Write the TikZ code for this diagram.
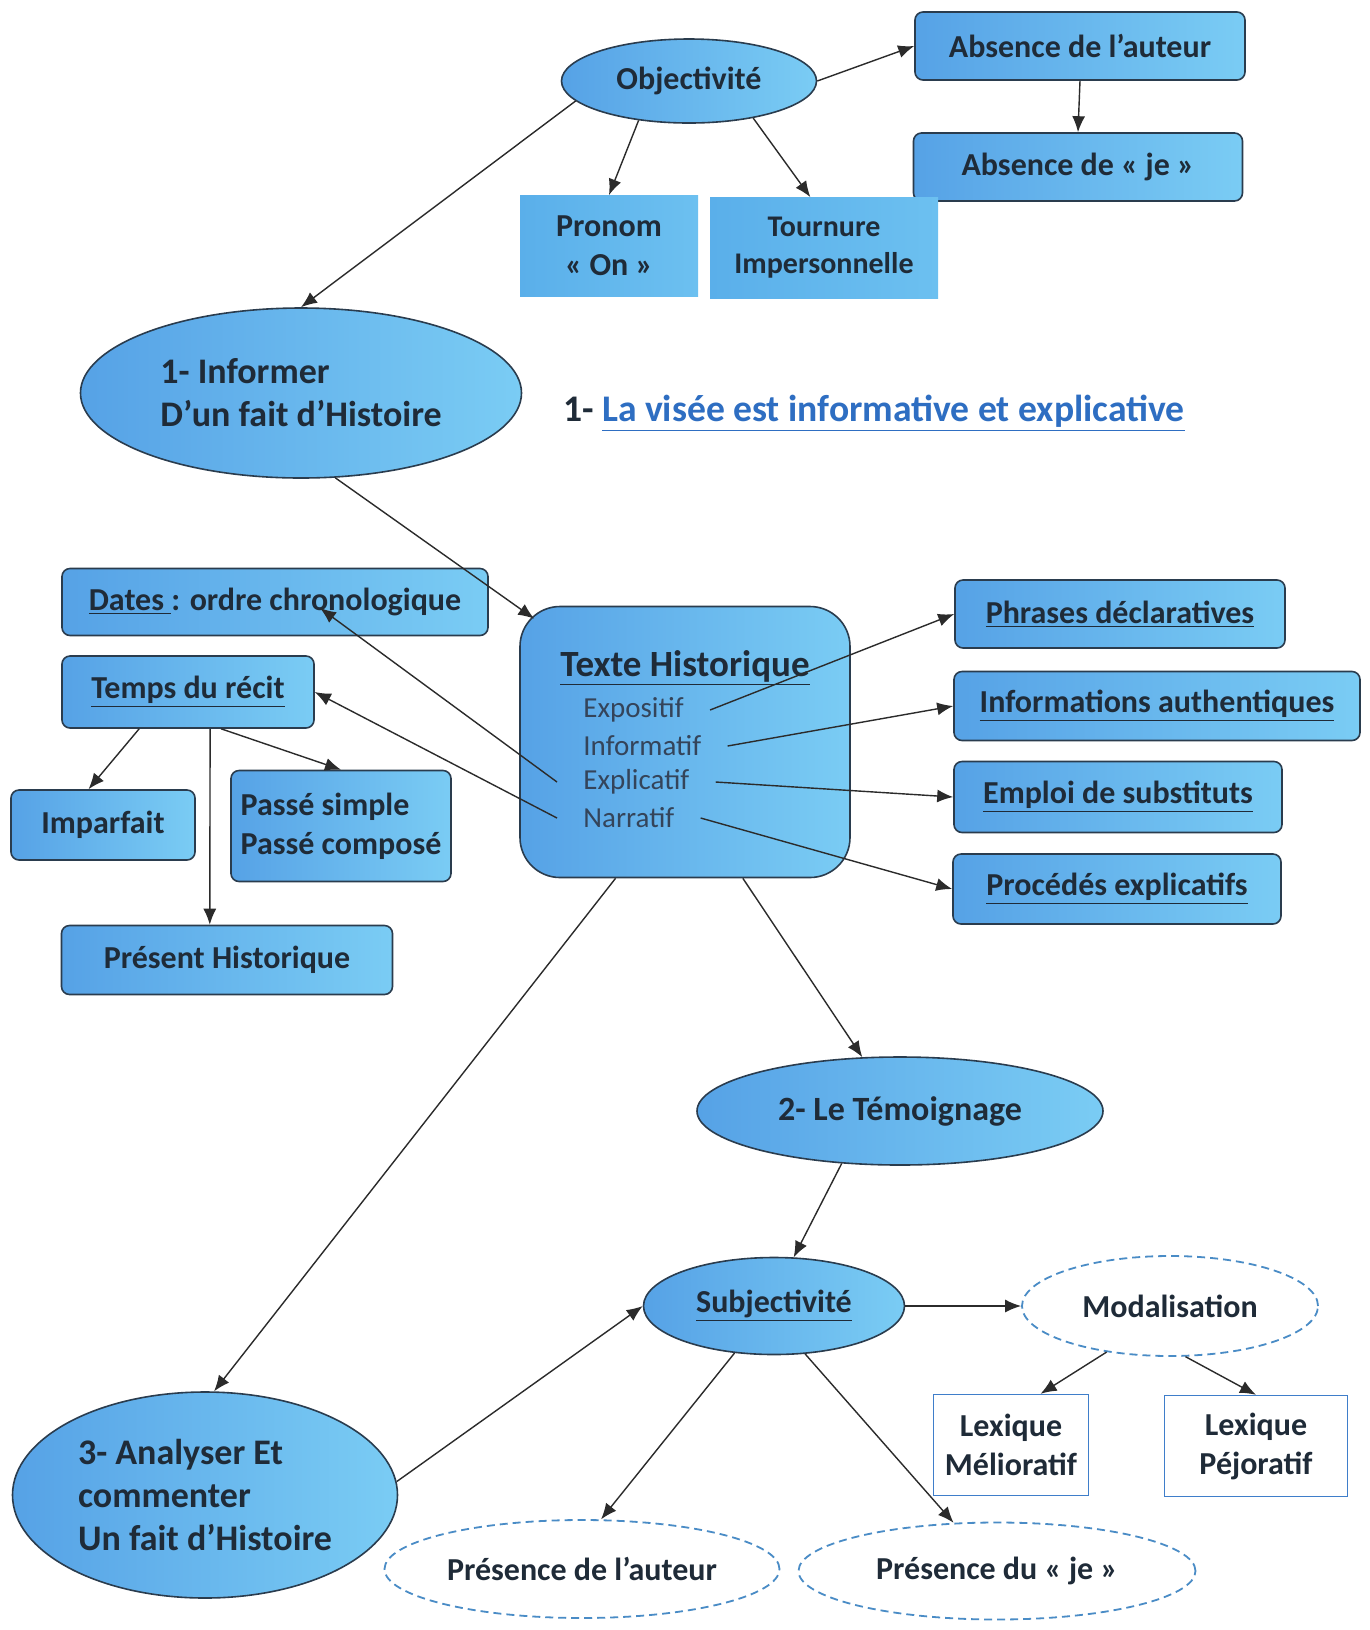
\documentclass[tikz,border=0pt]{standalone}
\usepackage{fontspec}
\setmainfont{Carlito}
\usetikzlibrary{shapes.geometric,arrows.meta,calc}
\definecolor{blueL}{HTML}{56A2E6}
\definecolor{blueR}{HTML}{7ACCF4}
\definecolor{flatL}{HTML}{5AAFEA}
\definecolor{flatR}{HTML}{6CC0F0}
\definecolor{edgec}{HTML}{2A3C4E}
\definecolor{linec}{HTML}{2B2B2B}
\definecolor{inkc}{HTML}{1F2B38}
\definecolor{subc}{HTML}{34445A}
\definecolor{dashc}{HTML}{4A8CC6}
\definecolor{lexc}{HTML}{3F7ECA}
\definecolor{linkc}{HTML}{2E6EC2}

\begin{document}
\begin{tikzpicture}[x=0.5pt, y=-0.5pt,
  txt/.style={font=\bfseries\fontsize{16}{19.5}\selectfont, text=inkc, align=center},
  boxr/.style={txt, draw=edgec, line width=0.8pt, rounded corners=4pt, left color=blueL, right color=blueR, inner sep=2pt},
  oval/.style={txt, ellipse, draw=edgec, line width=0.8pt, left color=blueL, right color=blueR, inner sep=0pt},
  dashoval/.style={txt, ellipse, draw=dashc, line width=0.9pt, dash pattern=on 4pt off 2.5pt, fill=white, inner sep=0pt},
  plain/.style={txt, draw=lexc, line width=0.7pt, fill=white, inner sep=2pt},
  flat/.style={txt, left color=flatL, right color=flatR, inner sep=2pt},
  sub/.style={font=\fontsize{14.5}{17}\selectfont, text=subc, anchor=west, inner xsep=13pt, inner ysep=1pt},
  conn/.style={color=linec, line width=0.7pt, -{Latex[length=8pt,width=6.5pt]}}]
  \fill[white] (0,0) rectangle (1370,1630);
  \useasboundingbox (0,0) rectangle (1370,1630);

  \node[oval, minimum width=127.5pt, minimum height=42pt] (obj) at (689,81) {Objectivité};
  \node[boxr, minimum width=165pt, minimum height=34pt] (abs1) at (1080,46) {Absence de l’auteur};
  \node[boxr, minimum width=164.5pt, minimum height=34pt] (abs2) at (1078,167) {Absence de « je »};
  \node[flat, minimum width=89pt, minimum height=50.5pt] (on) at (609,246) {Pronom\\« On »};
  \node[flat, minimum width=114pt, minimum height=50.5pt, font=\bfseries\fontsize{15}{18.5}\selectfont] (imper) at (824,248) {Tournure\\Impersonnelle};
  \node[oval, minimum width=220.5pt, minimum height=85pt, align=left, font=\bfseries\fontsize{18}{21.5}\selectfont] (inf) at (301,393) {1- Informer\\D’un fait d’Histoire};
  \node[txt, font=\bfseries\fontsize{18.8}{22}\selectfont] (visee) at (874,413) {1- \textcolor{linkc}{\underline{La visée est informative et explicative}}};

  \node[boxr, minimum width=213pt, minimum height=33.5pt] (dates) at (275,602) {\underline{Dates }: ordre chronologique};
  \node[boxr, minimum width=126pt, minimum height=36pt] (temps) at (188,692) {\underline{Temps du récit}};
  \node[boxr, minimum width=92pt, minimum height=35pt] (imp) at (103,825) {Imparfait};
  \node[boxr, minimum width=110pt, minimum height=55.5pt, align=left] (passe) at (341,826) {Passé simple\\Passé composé};
  \node[boxr, minimum width=165.5pt, minimum height=34.5pt] (pres) at (227,960) {Présent Historique};

  \node[boxr, rounded corners=20pt, minimum width=165pt, minimum height=135.5pt] (texte) at (685,742) {};
  \node[txt, font=\bfseries\fontsize{18.5}{22}\selectfont] (titre) at (685,668) {\underline{Texte Historique}};
  \node[sub] (expo) at (557,710) {Expositif};
  \node[sub] (infor) at (557,746) {Informatif};
  \node[sub] (expl) at (557,782) {Explicatif};
  \node[sub] (narr) at (557,818) {Narratif};
  \coordinate (thcorner) at ($(texte.north west)+(15,13)$);
  \coordinate (chrono) at ($(dates.center)+(45,6)$);

  \node[boxr, minimum width=165pt, minimum height=34pt] (phr) at (1120,614) {\underline{Phrases déclaratives}};
  \node[boxr, minimum width=203pt, minimum height=34.5pt] (auth) at (1157,706) {\underline{Informations authentiques}};
  \node[boxr, minimum width=164pt, minimum height=35.5pt] (subst) at (1118,797) {\underline{Emploi de substituts}};
  \node[boxr, minimum width=164pt, minimum height=35pt] (proc) at (1117,889) {\underline{Procédés explicatifs}};

  \node[oval, minimum width=203pt, minimum height=54pt, font=\bfseries\fontsize{17}{20}\selectfont] (temo) at (900,1111) {2- Le Témoignage};
  \node[oval, minimum width=130.5pt, minimum height=48.5pt] (subj) at (774,1306) {\underline{Subjectivité}};
  \node[dashoval, minimum width=148pt, minimum height=50pt] (modal) at (1170,1306) {Modalisation};
  \node[plain, minimum width=77.5pt, minimum height=50.5pt] (melio) at (1011,1445) {Lexique\\Mélioratif};
  \node[plain, minimum width=91.5pt, minimum height=50.5pt] (pejo) at (1256,1446) {Lexique\\Péjoratif};
  \node[oval, minimum width=192.5pt, minimum height=103pt, align=left, font=\bfseries\fontsize{18}{21.5}\selectfont] (ana) at (205,1495) {3- Analyser Et\\commenter\\Un fait d’Histoire};
  \node[dashoval, minimum width=197.5pt, minimum height=49pt] (auteur) at (582,1569) {Présence de l’auteur};
  \node[dashoval, minimum width=198.5pt, minimum height=48.5pt] (je) at (997,1571) {Présence du « je »};

  \path[conn] (obj.190) edge (inf.north);
  \path[conn] (obj.east) edge (abs1.west);
  \path[conn] (abs1.south) edge (abs2.north);
  \path[conn] (obj.218) edge (on.north);
  \path[conn] (obj.330) edge (imper.105);
  \path[conn] (inf.292) edge (thcorner);
  \path[conn] (expl.west) edge (chrono);
  \path[conn] (narr.west) edge (temps.east);
  \path[conn] (temps.217) edge (imp.112);
  \path[conn] (temps.312) edge (passe.north);
  \path[conn] (temps.301) edge (pres.116);
  \path[conn] (expo.east) edge (phr.west);
  \path[conn] (infor.east) edge (auth.west);
  \path[conn] (expl.east) edge (subst.west);
  \path[conn] (narr.east) edge (proc.west);
  \path[conn] (texte.293) edge (temo.125);
  \path[conn] (texte.243) edge (ana.85);
  \path[conn] (temo.222) edge (subj.68);
  \path[conn] (subj.east) edge (modal.west);
  \path[conn] (modal.216) edge (melio.60);
  \path[conn] (modal.287) edge (pejo.north);
  \path[conn] (ana.4) edge (subj.west);
  \path[conn] (subj.230) edge (auteur.69);
  \path[conn] (subj.303) edge (je.132);
\end{tikzpicture}
\end{document}
